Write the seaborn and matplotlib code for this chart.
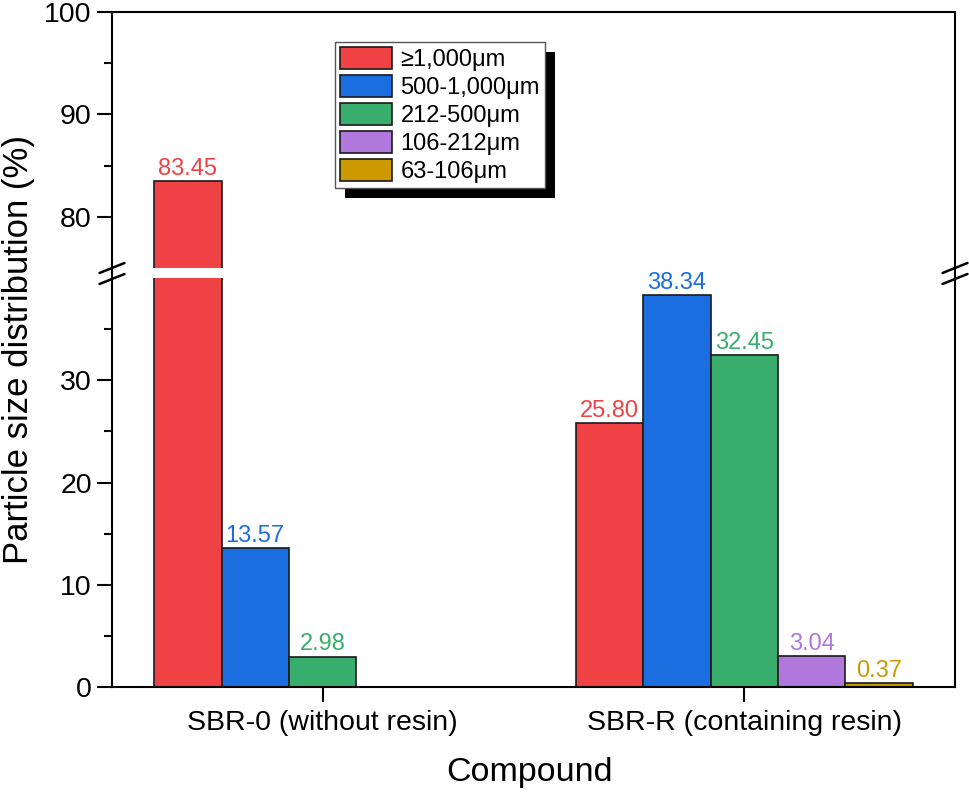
import numpy as np
import pandas as pd
import seaborn as sns
import matplotlib
matplotlib.use("Agg")
import matplotlib.pyplot as plt
from matplotlib.patches import Patch, Rectangle
from matplotlib.lines import Line2D
from matplotlib.transforms import IdentityTransform

# ---------------- data ----------------
compounds = ["SBR-0 (without resin)", "SBR-R (containing resin)"]
size_classes = ["≥1,000μm", "500-1,000μm", "212-500μm", "106-212μm", "63-106μm"]
sbr0_values = [83.45, 13.57, 2.98, np.nan, np.nan]
sbrr_values = [25.80, 38.34, 32.45, 3.04, 0.37]
colors = ["#F04245", "#1B6EE0", "#39AD6B", "#B077DD", "#CC9900"]

lower_ticks = [0, 10, 20, 30]
upper_ticks = [80, 90, 100]

rows = []
for comp, vals in zip(compounds, [sbr0_values, sbrr_values]):
    for sc, v in zip(size_classes, vals):
        rows.append({"Compound": comp, "Size": sc, "Value": v})
df = pd.DataFrame(rows)

# ---------------- style ----------------
sns.set_theme(style="white")
plt.rcParams["font.family"] = ["Liberation Sans", "DejaVu Sans"]
plt.rcParams["axes.linewidth"] = 1.5
for k in ["text.color", "axes.labelcolor", "xtick.color", "ytick.color", "axes.edgecolor"]:
    plt.rcParams[k] = "black"

W, H = 970, 794
fig = plt.figure(figsize=(W / 100, H / 100), dpi=100)

L, R = 112, 955
top_px, brk_hi, brk_lo, bot_px = 12, 268, 278, 687


def fx(px):
    return px / W


def fy(py):
    return 1 - py / H


ax_top = fig.add_axes([fx(L), fy(brk_hi), fx(R) - fx(L), fy(top_px) - fy(brk_hi)])
ax_bot = fig.add_axes([fx(L), fy(bot_px), fx(R) - fx(L), fy(brk_lo) - fy(bot_px)])

palette = dict(zip(size_classes, colors))
for ax in (ax_top, ax_bot):
    sns.barplot(data=df, x="Compound", y="Value", hue="Size", order=compounds,
                hue_order=size_classes, palette=palette, saturation=1,
                edgecolor="#1a1a1a", linewidth=1.2, width=0.8, legend=False,
                errorbar=None, ax=ax)
    ax.set_xlim(-0.5, 1.5)
    ax.set_xlabel("")
    ax.set_ylabel("")
    ax.grid(False)
    for s in ax.spines.values():
        s.set_color("black")
        s.set_linewidth(1.5)
    ax.tick_params(axis="both", which="both", direction="out", colors="black",
                   labelsize=20.5, width=1.5, right=False, top=False)
    ax.tick_params(axis="y", which="major", left=True, length=10.5, pad=4)
    ax.tick_params(axis="y", which="minor", left=True, length=6)

ax_top.set_ylim(75, 100)
ax_top.set_yticks(upper_ticks)
ax_top.set_yticks([85, 95], minor=True)
ax_top.spines["bottom"].set_visible(False)
ax_top.tick_params(axis="x", which="both", bottom=False, labelbottom=False)

ax_bot.set_ylim(0, 40)
ax_bot.set_yticks(lower_ticks)
ax_bot.set_yticks([5, 15, 25, 35], minor=True)
ax_bot.spines["top"].set_visible(False)
ax_bot.set_xticks(range(len(compounds)))
ax_bot.set_xticklabels(compounds)
ax_bot.tick_params(axis="x", which="major", bottom=True, length=10.5, pad=6,
                   labelsize=20.5)
ax_bot.tick_params(axis="x", which="minor", bottom=False)

# value labels (from drawn bar geometry)
for ci, cont in enumerate(ax_bot.containers):
    for patch in cont.patches:
        h = patch.get_height()
        if not np.isfinite(h):
            continue
        target = ax_top if h > 40 else ax_bot
        xc = patch.get_x() + patch.get_width() / 2
        target.annotate(f"{h:.2f}", xy=(xc, h), xytext=(0, 1),
                        textcoords="offset points", ha="center", va="bottom",
                        fontsize=17, color=colors[ci], annotation_clip=False)

# spine connectors and break marks
for xpx in (L, R):
    fig.add_artist(Line2D([fx(xpx), fx(xpx)], [fy(brk_hi), fy(brk_lo)],
                          color="black", lw=1.5, transform=fig.transFigure))
    for ypx in (brk_hi, brk_lo + 1):
        fig.add_artist(Line2D([fx(xpx - 12.5), fx(xpx + 12.5)],
                              [fy(ypx + 5), fy(ypx - 5)],
                              color="black", lw=1.8, transform=fig.transFigure))

# legend
handles = [Patch(facecolor=c, edgecolor="#1a1a1a", linewidth=1.2) for c in colors]
leg = ax_top.legend(handles, size_classes, loc="upper left",
                    bbox_to_anchor=(fx(335), fy(42)), bbox_transform=fig.transFigure,
                    borderaxespad=0, fontsize=17, handlelength=2.2,
                    handleheight=1.05, labelspacing=0.17, handletextpad=0.35,
                    borderpad=0.22, frameon=True, fancybox=False)
leg.get_frame().set_edgecolor("#555555")
leg.get_frame().set_linewidth(1.0)
leg.get_frame().set_alpha(1)
leg.set_zorder(10)
for t in leg.get_texts():
    t.set_color("black")

fig.canvas.draw()
bb = leg.get_window_extent()
shadow = Rectangle((bb.x0 + 10, bb.y0 - 10), bb.width, bb.height,
                   transform=IdentityTransform(), facecolor="black",
                   edgecolor="none", zorder=9, clip_on=False)
ax_top.add_artist(shadow)

# axis titles
fig.text(fx(530), fy(773), "Compound", ha="center", va="center", fontsize=24.5)
fig.text(fx(19), fy((top_px + bot_px) / 2), "Particle size distribution (%)",
         ha="center", va="center", rotation=90, fontsize=25)

fig.savefig("out.png", dpi=100)
